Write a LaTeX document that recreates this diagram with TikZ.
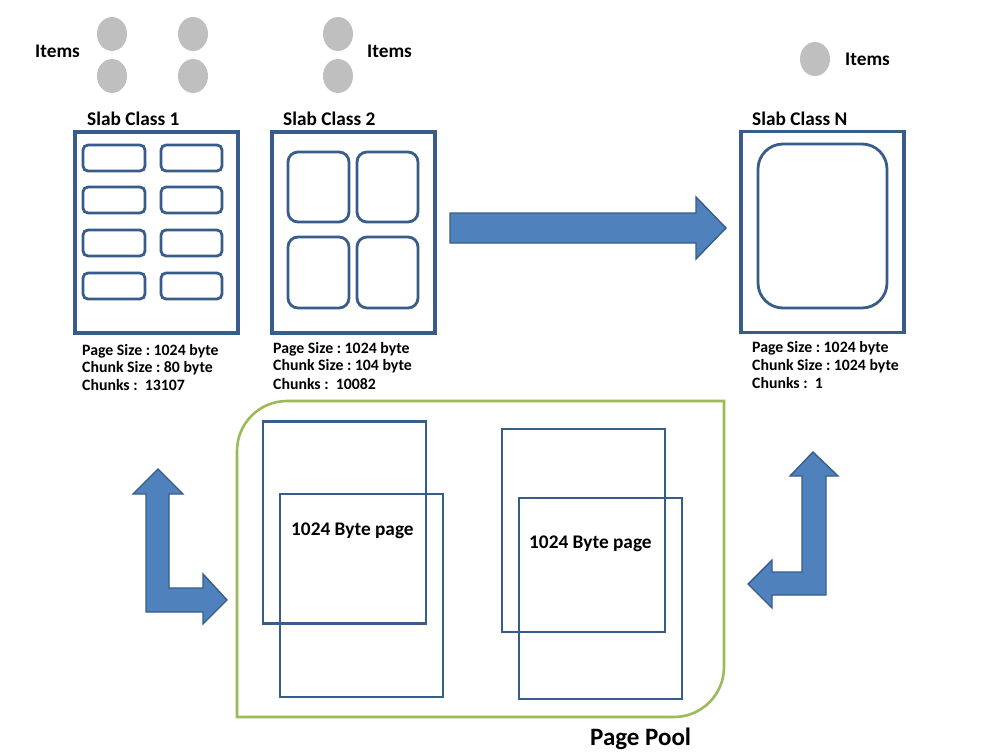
\documentclass[tikz,border=0pt]{standalone}
\usepackage{fontspec}
\setmainfont{Carlito}
\usetikzlibrary{shapes.geometric}
\frenchspacing
\definecolor{slabblue}{HTML}{385D8A}
\definecolor{arrowfill}{HTML}{4F81BD}
\definecolor{itemgray}{HTML}{BFBFBF}
\definecolor{poolgreen}{HTML}{9BBB59}
\tikzset{
  item/.style={ellipse, fill=itemgray, draw=none, minimum width=30pt, minimum height=34pt, inner sep=0pt},
  bigtxt/.style={anchor=base west, inner sep=0pt, font=\fontsize{19.3}{22}\selectfont\bfseries},
  smalltxt/.style={anchor=base west, inner sep=0pt, font=\fontsize{15.8}{18}\selectfont\bfseries},
  slabbox/.style={draw=slabblue, line width=3.2pt, rectangle, inner sep=0pt, minimum width=163pt, minimum height=201pt},
  chunk/.style={draw=slabblue, line width=2.8pt, rectangle, inner sep=0pt},
  pagebox/.style={draw=slabblue, line width=2.4pt, rectangle, inner sep=0pt, minimum width=163pt, minimum height=202pt},
  bigarrow/.style={fill=arrowfill, draw=slabblue, line width=1.4pt, line join=miter},
  poolline/.style={draw=poolgreen, line width=2.6pt}
}
\begin{document}
\begin{tikzpicture}[x=1pt,y=-1pt]
\useasboundingbox (0,0) rectangle (999,752);
\fill[white] (0,0) rectangle (999,752);

% items
\node[item] (i1) at (112,34) {};
\node[item] (i2) at (112,76) {};
\node[item] (i3) at (193,34) {};
\node[item] (i4) at (193,76) {};
\node[item] (i5) at (338,34) {};
\node[item] (i6) at (338,76) {};
\node[item] (i7) at (815,59) {};
\node[bigtxt] (it1) at (35,58) {Items};
\node[bigtxt] (it2) at (367,58) {Items};
\node[bigtxt] (it3) at (845,66) {Items};

% slab titles
\node[bigtxt] (t1) at (87,125) {Slab Class 1};
\node[bigtxt] (t2) at (283,125) {Slab Class 2};
\node[bigtxt] (t3) at (752,125) {Slab Class N};

% slab boxes
\node[slabbox] (s1) at (156.5,232.5) {};
\node[slabbox] (s2) at (353.5,232.5) {};
\node[slabbox] (sn) at (822.5,232) {};

% slab 1 chunks
\foreach \r/\y in {1/158,2/200,3/243,4/286}{
  \node[chunk, rounded corners=5pt, minimum width=62pt, minimum height=26pt] (c1a\r) at (114,\y) {};
  \node[chunk, rounded corners=5pt, minimum width=61pt, minimum height=26pt] (c1b\r) at (191.5,\y) {};
}
% slab 2 chunks
\node[chunk, rounded corners=10pt, minimum width=61pt, minimum height=70pt] (c2a) at (318.5,187) {};
\node[chunk, rounded corners=10pt, minimum width=61pt, minimum height=70pt] (c2b) at (387.5,187) {};
\node[chunk, rounded corners=10pt, minimum width=61pt, minimum height=71pt] (c2c) at (318.5,272.5) {};
\node[chunk, rounded corners=10pt, minimum width=61pt, minimum height=71pt] (c2d) at (387.5,272.5) {};
% slab N chunk
\node[chunk, rounded corners=25pt, minimum width=129pt, minimum height=164pt] (cn) at (822.5,226) {};

% slab texts
\node[smalltxt] (p1a) at (82,355) {Page Size : 1024 byte};
\node[smalltxt] (p1b) at (82,372.5) {Chunk Size : 80 byte};
\node[smalltxt] (p1c) at (82,390.5) {Chunks :\ \ 13107};
\node[smalltxt] (p2a) at (273,353.3) {Page Size : 1024 byte};
\node[smalltxt] (p2b) at (273,370.7) {Chunk Size : 104 byte};
\node[smalltxt] (p2c) at (273,389) {Chunks :\ \ 10082};
\node[smalltxt] (pna) at (752,352.7) {Page Size : 1024 byte};
\node[smalltxt] (pnb) at (752,370.7) {Chunk Size : 1024 byte};
\node[smalltxt] (pnc) at (752,388.7) {Chunks :\ \ 1};

% big right arrow
\draw[bigarrow] (450,213) -- (696,213) -- (696,197) -- (726,228) -- (696,259) -- (696,243) -- (450,243) -- cycle;

% page pool
\draw[poolline] (237,717) -- (237,451) .. controls (237,423.4) and (259.4,401) .. (287,401) -- (724,401) -- (724,667) .. controls (724,694.6) and (701.6,717) .. (674,717) -- cycle;
\node[pagebox] (pa) at (344.5,522.5) {};
\node[pagebox, minimum height=203pt] (pb) at (361.5,595.5) {};
\node[pagebox, minimum height=203pt] (pc) at (583.5,530.5) {};
\node[pagebox, minimum height=201pt] (pd) at (600.5,598.5) {};
\node[bigtxt] (pt1) at (291,535) {1024 Byte page};
\node[bigtxt] (pt2) at (529,548) {1024 Byte page};
\node[anchor=base west, inner sep=0pt, font=\fontsize{25}{30}\selectfont\bfseries] (pool) at (590,745) {Page Pool};

% L arrows
\draw[bigarrow] (158,469) -- (183,494) -- (169,494) -- (169,588) -- (203,588) -- (203,574) -- (227,600) -- (203,624) -- (203,612) -- (146,612) -- (146,494) -- (133,494) -- cycle;
\draw[bigarrow] (813,452) -- (838,476) -- (826,476) -- (826,595) -- (772,595) -- (772,608) -- (748,584) -- (772,560) -- (772,572) -- (802,572) -- (802,476) -- (790,476) -- cycle;
\end{tikzpicture}
\end{document}
